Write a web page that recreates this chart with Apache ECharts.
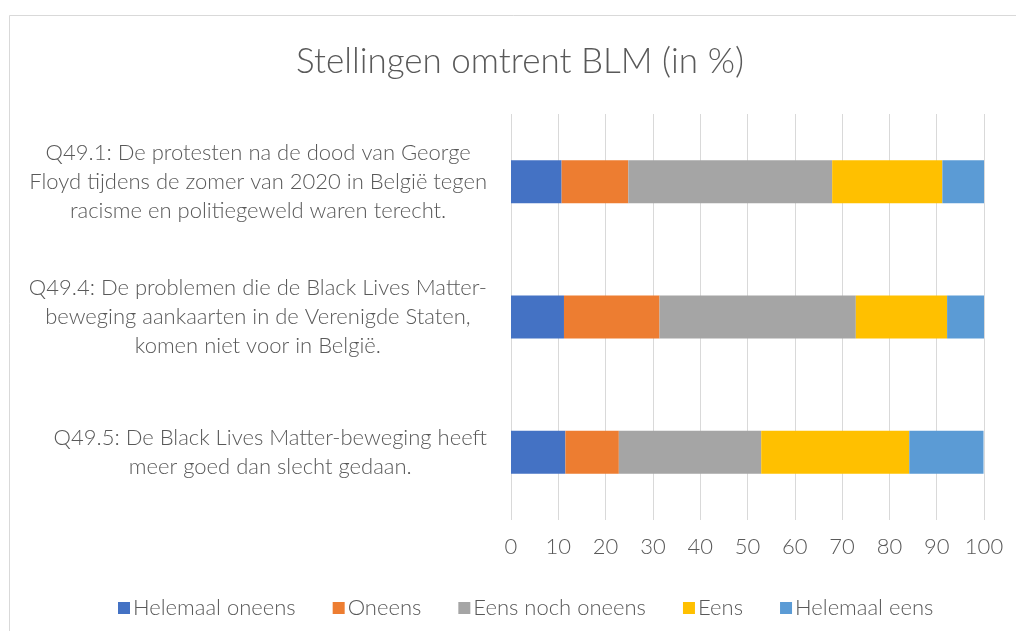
<!DOCTYPE html>
<html>
<head>
<meta charset="utf-8">
<script src="https://cdn.jsdelivr.net/npm/echarts@6/dist/echarts.min.js"></script>
<style>html,body{margin:0;padding:0;background:#fff}#c{width:1016px;height:631px}</style>
</head>
<body>
<div id="c"></div>
<script>
const titleText = 'Stellingen omtrent BLM (in %)';
const categories = [
  'Q49.1: De protesten na de dood van George\nFloyd tijdens de zomer van 2020 in België tegen\nracisme en politiegeweld waren terecht.',
  'Q49.4: De problemen die de Black Lives Matter-\nbeweging aankaarten in de Verenigde Staten,\nkomen niet voor in België.',
  'Q49.5: De Black Lives Matter-beweging heeft\nmeer goed dan slecht gedaan.'
];
const seriesNames = ['Helemaal oneens', 'Oneens', 'Eens noch oneens', 'Eens', 'Helemaal eens'];
const helemaalOneens = [10.7, 11.2, 11.5];
const oneens = [14.1, 20.2, 11.3];
const eensNochOneens = [43.1, 41.5, 30.1];
const eens = [23.3, 19.3, 31.3];
const helemaalEens = [8.8, 7.8, 15.7];
const xTicks = [0, 10, 20, 30, 40, 50, 60, 70, 80, 90, 100];

const seriesData = [helemaalOneens, oneens, eensNochOneens, eens, helemaalEens];
const colors = ['#4472C4', '#ED7D31', '#A5A5A5', '#FFC000', '#5B9BD5'];
const FONT = 'Lato';
const TXT = '#595959';
const FS = 22;

const chart = echarts.init(document.getElementById('c'), null, {renderer: 'canvas'});
chart.setOption({
  animation: false,
  backgroundColor: '#fff',
  color: colors,
  title: {
    text: titleText,
    left: 515, top: 39, textAlign: 'center',
    textStyle: {fontFamily: FONT, fontSize: 35, fontWeight: 300, color: TXT}
  },
  graphic: [{
    type: 'rect', silent: true, z: -1,
    shape: {x: 9.5, y: 15.5, width: 1100, height: 700},
    style: {fill: 'none', stroke: '#d9d9d9', lineWidth: 1}
  }],
  legend: {
    left: 113, top: 592,
    itemWidth: 12, itemHeight: 12, itemGap: 37,
    icon: 'rect',
    textStyle: {fontFamily: FONT, fontSize: FS, fontWeight: 300, color: TXT, padding: [0, 0, 0, -2]},
    data: seriesNames
  },
  grid: {left: 511, right: 32, top: 114, bottom: 111, containLabel: false},
  xAxis: {
    type: 'value', min: xTicks[0], max: xTicks[xTicks.length - 1], interval: 10,
    axisLine: {show: false}, axisTick: {show: false},
    splitLine: {lineStyle: {color: '#d9d9d9', width: 1}},
    axisLabel: {fontFamily: FONT, fontSize: FS, fontWeight: 300, color: TXT, margin: 16}
  },
  yAxis: {
    type: 'category', inverse: true, data: categories,
    axisLine: {show: false}, axisTick: {show: false},
    axisLabel: {
      align: 'right', margin: 24, lineHeight: 29,
      fontFamily: FONT, fontSize: FS, fontWeight: 300, color: TXT,
      formatter: v => v.split('\n').map(l => '{c|' + l + '}').join('\n'),
      rich: {c: {align: 'center', fontFamily: FONT, fontSize: FS, fontWeight: 300, color: TXT, lineHeight: 29}}
    }
  },
  series: seriesNames.map((n, i) => ({
    name: n, type: 'bar', stack: 'total', barWidth: 43,
    data: seriesData[i]
  }))
});
</script>
</body>
</html>
